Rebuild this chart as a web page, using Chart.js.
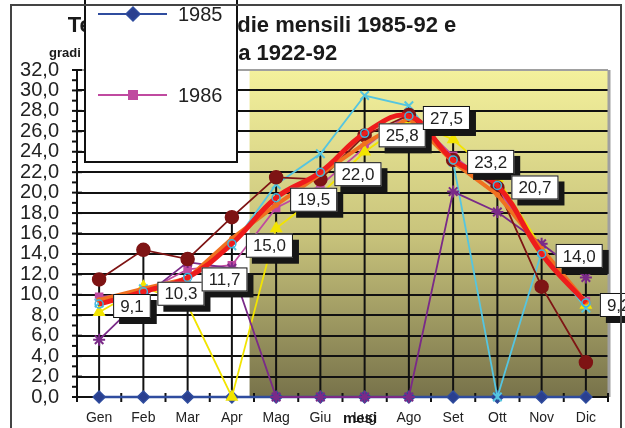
<!DOCTYPE html>
<html>
<head>
<meta charset="utf-8">
<script src="https://cdn.jsdelivr.net/npm/chart.js@4.4.1/dist/chart.umd.min.js"></script>
<style>
  html, body { margin: 0; padding: 0; background: #fff; }
  #wrap { width: 625px; height: 428px; }
</style>
</head>
<body>
<div id="wrap"><canvas id="grafico" width="625" height="428"></canvas></div>
<script>
// Dati
const mesi = ["Gen", "Feb", "Mar", "Apr", "Mag", "Giu", "Lug", "Ago", "Set", "Ott", "Nov", "Dic"];
const anni = ["1985", "1986", "1987", "1988", "1989", "1990", "1991"];
const t1985 = [0, 0, 0, 0, 0, 0, 0, 0, 0, 0, 0, 0];
const t1986 = [9.8, 10.2, 12.5, 12.9, 18.5, 20.7, 24.4, 27.8, 23.6, 20.3, 14.6, 9.4];
const t1987 = [8.3, 10.8, 9.0, 0, 16.5, 19.8, 24.0, 27.0, 25.2, 21.4, 14.6, 9.0];
const t1988 = [9.2, 10.6, 11.5, 14.8, 20.8, 23.8, 29.5, 28.5, 23.0, 0, 14.2, 8.7];
const t1989 = [5.6, 9.8, 13.2, 12.6, 0, 0, 0, 0, 20.1, 18.1, 15.0, 11.7];
const t1990 = [11.5, 14.4, 13.5, 17.6, 21.5, 21.3, 25.6, 27.6, 23.2, 20.5, 10.8, 3.4];
const t1991 = [9.5, 10.6, 11.6, 15.5, 18.8, 21.8, 24.8, 27.3, 23.0, 19.8, 14.5, 9.3];
const media = [9.1, 10.3, 11.7, 15.0, 19.5, 22.0, 25.8, 27.5, 23.2, 20.7, 14.0, 9.2];
const etichettaMedia = "media 1922-92";
const yMin = 0, yMax = 32, yPasso = 2;

const fmt = v => v.toFixed(1).replace(".", ",");

function serie(label, data, colore, stile, raggio, extra) {
  return Object.assign({
    label, data,
    borderColor: colore,
    backgroundColor: colore,
    pointBackgroundColor: colore,
    pointBorderColor: colore,
    pointStyle: stile,
    pointRadius: raggio,
    pointBorderWidth: 1.5,
    borderWidth: 1.8,
    fill: false,
    tension: 0,
    clip: 10
  }, extra || {});
}

const datasets = [
  serie(anni[0], t1985, "#2f4c9e", "rectRot", 6, { pointBackgroundColor: "#2a3f8f", borderWidth: 2.5, order: 7 }),
  serie(anni[1], t1986, "#c04aa0", "rect", 5, { order: 6 }),
  serie(anni[2], t1987, "#f2e400", "triangle", 6, { order: 5 }),
  serie(anni[3], t1988, "#55c5e0", "crossRot", 6, { pointBorderWidth: 2, order: 4 }),
  serie(anni[4], t1989, "#7a2a88", "star", 6, { pointBorderWidth: 2, order: 3 }),
  serie(anni[5], t1990, "#7e1414", "circle", 6.5, { order: 2 }),
  serie(anni[6], t1991, "#f07020", "circle", 2, { borderWidth: 4, order: 1 }),
  serie(etichettaMedia, media, "#ee1c1c", "circle", 4, {
    borderWidth: 5, tension: 0.4, order: 0,
    pointBackgroundColor: "rgba(0,0,0,0)", pointBorderColor: "#3fb4e0", pointBorderWidth: 1.5
  })
];

// Sfondo, linee verticali e tacche degli assi
const decorazioni = {
  id: "decorazioni",
  beforeDraw(chart) {
    const { ctx, chartArea: a, scales: { x } } = chart;
    ctx.save();
    ctx.fillStyle = "#fff";
    ctx.fillRect(0, 0, chart.width, chart.height);
    const passo = x.getPixelForValue(1) - x.getPixelForValue(0);
    const x0 = x.getPixelForValue(3) + passo * 0.4;
    const g = ctx.createLinearGradient(0, a.top, 0, a.bottom);
    g.addColorStop(0, "#f4f19c");
    g.addColorStop(0.5, "#c9c47c");
    g.addColorStop(1, "#77724a");
    ctx.fillStyle = g;
    ctx.fillRect(x0, a.top, a.right - x0, a.bottom - a.top);
    ctx.restore();
  },
  beforeDatasetsDraw(chart) {
    const { ctx, chartArea: a, scales: { x, y } } = chart;
    ctx.save();
    // linee di riferimento dal valore massimo all'asse
    ctx.strokeStyle = "#111";
    ctx.lineWidth = 2;
    mesi.forEach((m, i) => {
      const max = Math.max(...chart.data.datasets.map(d => d.data[i]));
      const px = x.getPixelForValue(i);
      ctx.beginPath();
      ctx.moveTo(px, y.getPixelForValue(max));
      ctx.lineTo(px, y.getPixelForValue(0));
      ctx.stroke();
    });
    // bordo destro area grafico
    ctx.strokeStyle = "#a0a0a0";
    ctx.lineWidth = 3;
    ctx.beginPath();
    ctx.moveTo(a.right + 1, a.top);
    ctx.lineTo(a.right + 1, a.bottom);
    ctx.stroke();
    // tacche asse y
    ctx.strokeStyle = "#111";
    ctx.lineWidth = 2;
    for (let v = yMin; v <= yMax; v += 1) {
      const py = y.getPixelForValue(v);
      ctx.beginPath();
      if (v % yPasso === 0) {
        ctx.moveTo(a.left - 5, py);
        ctx.lineTo(a.left + 5, py);
      } else {
        ctx.moveTo(a.left - 5, py);
        ctx.lineTo(a.left, py);
      }
      ctx.stroke();
    }
    // tacche asse x
    const passo = x.getPixelForValue(1) - x.getPixelForValue(0);
    for (let i = 0; i <= mesi.length; i++) {
      const px = x.getPixelForValue(0) - passo / 2 + i * passo;
      ctx.beginPath();
      ctx.moveTo(px, a.bottom - 4);
      ctx.lineTo(px, a.bottom + 5);
      ctx.stroke();
    }
    ctx.restore();
  },
  afterDatasetsDraw(chart) {
    const { ctx, scales: { x, y } } = chart;
    ctx.save();
    // etichette della media
    ctx.font = "17px Arial, 'Liberation Sans', sans-serif";
    ctx.textBaseline = "middle";
    media.forEach((v, i) => {
      const px = x.getPixelForValue(i);
      const py = y.getPixelForValue(v);
      const t = fmt(v);
      const w = ctx.measureText(t).width + 14;
      const h = 24;
      const bx = px + 14, by = py - 10;
      ctx.fillStyle = "#161616";
      ctx.fillRect(bx + 6, by + 6, w, h);
      ctx.fillStyle = "#fff";
      ctx.fillRect(bx, by, w, h);
      ctx.strokeStyle = "#111";
      ctx.lineWidth = 1;
      ctx.strokeRect(bx + 0.5, by + 0.5, w - 1, h - 1);
      ctx.fillStyle = "#222";
      ctx.fillText(t, bx + 7, by + h / 2 + 1);
    });

    // titolo
    ctx.fillStyle = "#1a1a1a";
    ctx.textAlign = "center";
    ctx.textBaseline = "alphabetic";
    ctx.font = "bold 22px Arial, 'Liberation Sans', sans-serif";
    ctx.fillText("Temperature medie mensili 1985-92 e", 262, 32);
    ctx.fillText("media 1922-92", 262, 60);
    ctx.textAlign = "left";
    ctx.font = "bold 13px Arial, 'Liberation Sans', sans-serif";
    ctx.fillText("gradi", 49, 57);
    ctx.textAlign = "center";
    ctx.font = "bold 15px Arial, 'Liberation Sans', sans-serif";
    ctx.fillText("mesi", 360, 423);

    // legenda (tagliata dal riquadro)
    const lx = 85, ly = -2, lw = 152, lh = 164;
    ctx.fillStyle = "#fff";
    ctx.fillRect(lx, ly, lw, lh);
    ctx.strokeStyle = "#111";
    ctx.lineWidth = 2;
    ctx.strokeRect(lx, ly, lw, lh);
    ctx.beginPath();
    ctx.rect(lx + 1, ly + 1, lw - 2, lh - 2);
    ctx.clip();
    chart.data.datasets.forEach((d, i) => {
      const yy = 14 + i * 81;
      ctx.strokeStyle = d.borderColor;
      ctx.lineWidth = 2;
      ctx.beginPath();
      ctx.moveTo(98, yy);
      ctx.lineTo(167, yy);
      ctx.stroke();
      ctx.fillStyle = d.pointBackgroundColor;
      ctx.strokeStyle = d.pointBorderColor;
      ctx.lineWidth = d.pointBorderWidth;
      if (Chart.helpers && Chart.helpers.drawPoint) {
        Chart.helpers.drawPoint(ctx, { pointStyle: d.pointStyle, radius: d.pointRadius + 1, rotation: 0, borderWidth: d.pointBorderWidth }, 133, yy);
      }
      ctx.fillStyle = "#222";
      ctx.textAlign = "left";
      ctx.textBaseline = "middle";
      ctx.font = "20px Arial, 'Liberation Sans', sans-serif";
      ctx.fillText(d.label, 178, yy + 1);
    });
    ctx.restore();

    // bordo esterno
    ctx.save();
    ctx.strokeStyle = "#444";
    ctx.lineWidth = 2;
    ctx.strokeRect(11, 5, 610, 440);
    ctx.restore();
  }
};

new Chart(document.getElementById("grafico"), {
  type: "line",
  data: { labels: mesi, datasets },
  options: {
    responsive: false,
    animation: false,
    devicePixelRatio: 1,
    layout: { padding: { left: 0, top: 70, right: 17, bottom: 0 } },
    plugins: { legend: { display: false }, title: { display: false }, tooltip: { enabled: false } },
    scales: {
      x: {
        offset: true,
        grid: { display: false, drawTicks: false },
        border: { display: true, color: "#111", width: 2 },
        ticks: { color: "#222", padding: 13, autoSkip: false, maxRotation: 0,
                 font: { family: "Arial, 'Liberation Sans', sans-serif", size: 14 } },
        afterFit(s) { s.height = 31; }
      },
      y: {
        min: yMin, max: yMax,
        grid: {
          drawTicks: false,
          color: c => (c.tick && c.tick.value === yMax ? "#a0a0a0" : "#111"),
          lineWidth: 2
        },
        border: { display: true, color: "#111", width: 2 },
        ticks: { stepSize: yPasso, autoSkip: false, color: "#222", padding: 18,
                 callback: v => fmt(v),
                 font: { family: "Arial, 'Liberation Sans', sans-serif", size: 20 } },
        afterFit(s) { s.width = 77; }
      }
    }
  },
  plugins: [decorazioni]
});
</script>
</body>
</html>
